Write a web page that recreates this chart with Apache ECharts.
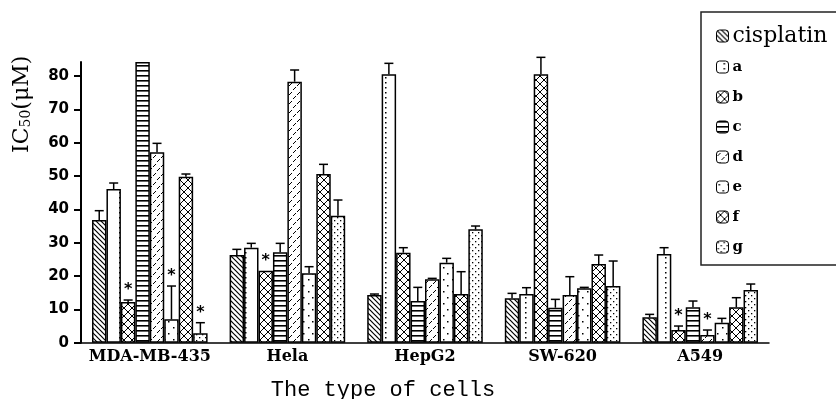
<!DOCTYPE html>
<html>
<head>
<meta charset="utf-8">
<script src="https://cdn.jsdelivr.net/npm/echarts@6/dist/echarts.min.js"></script>
<style>html,body{margin:0;padding:0;background:#fff}#c{width:836px;height:399px}</style>
</head>
<body>
<div id="c"></div>
<script>
// ---- data ----
var categories = ['MDA-MB-435', 'Hela', 'HepG2', 'SW-620', 'A549'];
var seriesNames = ['cisplatin', 'a', 'b', 'c', 'd', 'e', 'f', 'g'];
var cisplatin = [36.8, 26.3, 14.3, 13.3, 7.6];
var a = [46.1, 28.5, 80.5, 14.6, 26.6];
var b = [12.2, 21.6, 27.0, 80.5, 3.8];
var c = [84.2, 27.1, 12.5, 10.5, 10.6];
var d = [57.1, 78.3, 19.0, 14.3, 2.3];
var e = [7.0, 20.8, 24.0, 16.3, 6.0];
var f = [49.8, 50.6, 14.6, 23.6, 10.6];
var g = [2.8, 38.1, 34.0, 17.0, 15.8];
var errCisplatin = [2.8, 1.7, 0.3, 1.5, 0.9];
var errA = [1.8, 1.3, 3.3, 1.9, 1.9];
var errB = [0.6, 0, 1.5, 5.1, 1.2];
var errC = [0, 2.7, 4.1, 2.5, 1.9];
var errD = [2.7, 3.5, 0.3, 5.5, 1.5];
var errE = [10.0, 2.0, 1.3, 0.3, 1.3];
var errF = [0.8, 2.9, 6.7, 2.7, 2.9];
var errG = [3.2, 4.7, 1.0, 7.5, 1.8];
// significance stars: [category index, series index]
var stars = [[0, 2], [0, 5], [0, 7], [1, 2], [4, 2], [4, 4]];
var yTicks = [0, 10, 20, 30, 40, 50, 60, 70, 80];

var values = [cisplatin, a, b, c, d, e, f, g];
var errors = [errCisplatin, errA, errB, errC, errD, errE, errF, errG];

// ---- patterns ----
function mk(w, h, draw) {
  var cv = document.createElement('canvas');
  cv.width = w; cv.height = h;
  var ctx = cv.getContext('2d');
  ctx.fillStyle = '#fff'; ctx.fillRect(0, 0, w, h);
  ctx.strokeStyle = '#000'; ctx.fillStyle = '#000';
  draw(ctx);
  return { image: cv, repeat: 'repeat' };
}
function line(ctx, x1, y1, x2, y2, lw) { ctx.lineWidth = lw || 1.2; ctx.beginPath(); ctx.moveTo(x1, y1); ctx.lineTo(x2, y2); ctx.stroke(); }
function dot(ctx, x, y, s) { ctx.fillRect(x, y, s || 1.5, s || 1.5); }
var patterns = [
  mk(5, 5, function (x) { line(x, -1, -1, 6, 6); line(x, -1, 4, 1, 6); line(x, 4, -1, 6, 1); }),
  mk(14, 5, function (x) { dot(x, 7, 2); }),
  mk(8, 8, function (x) { line(x, 0, 0, 8, 8, 1); line(x, 8, 0, 0, 8, 1); }),
  mk(4, 5, function (x) { x.fillRect(0, 0, 4, 1.6); }),
  mk(8, 9, function (x) { line(x, 1, 5, 4, 2, 1); line(x, 5, 9, 8, 6, 1); }),
  mk(9, 12, function (x) { dot(x, 2, 3); dot(x, 6, 9); }),
  mk(8, 8, function (x) { line(x, 0, 0, 8, 8, 1); line(x, 8, 0, 0, 8, 1); }),
  mk(6, 6, function (x) { dot(x, 1, 1, 1.3); dot(x, 4, 4, 1.3); })
];

var series = seriesNames.map(function (n, i) {
  return {
    name: n, type: 'bar', data: values[i],
    barGap: '0%', barCategoryGap: '16%',
    itemStyle: { color: patterns[i], borderColor: '#000', borderWidth: 1.5 },
    emphasis: { disabled: true }, animation: false
  };
});

var errData = [];
for (var s = 0; s < 8; s++) for (var k = 0; k < 5; k++) {
  var st = stars.some(function (p) { return p[0] === k && p[1] === s; }) ? 1 : 0;
  errData.push([k, values[s][k], errors[s][k], s, st]);
}
series.push({
  type: 'custom', clip: false, silent: true, animation: false, z: 5,
  data: errData, encode: { x: 0, y: 1 },
  renderItem: function (params, api) {
    var cat = api.value(0), v = api.value(1), er = api.value(2), si = api.value(3), st = api.value(4);
    var band = api.size([1, 0])[0];
    var bw = band * 0.84 / 8;
    var cx = api.coord([cat, 0])[0] - band * 0.42 + bw * (si + 0.5);
    var y0 = api.coord([cat, v])[1];
    var y1 = api.coord([cat, v + er])[1];
    var children = [];
    if (er > 0.2) {
      children.push({ type: 'line', shape: { x1: cx, y1: y0, x2: cx, y2: y1 }, style: { stroke: '#000', lineWidth: 1.5 } });
      children.push({ type: 'line', shape: { x1: cx - 4.5, y1: y1, x2: cx + 4.5, y2: y1 }, style: { stroke: '#000', lineWidth: 1.5 } });
    }
    if (st) {
      children.push({ type: 'text', x: cx, y: y1 - 2, style: { text: '*', fill: '#000', font: 'bold 16px "DejaVu Sans"', align: 'center', verticalAlign: 'bottom' } });
    }
    return { type: 'group', children: children };
  }
});

var legendData = seriesNames.map(function (n, i) {
  return i === 0
    ? { name: n, textStyle: { fontFamily: 'DejaVu Serif', fontSize: 22, fontWeight: 'normal', lineHeight: 20 } }
    : { name: n };
});

var chart = echarts.init(document.getElementById('c'), null, { renderer: 'canvas' });
chart.setOption({
  animation: false,
  backgroundColor: '#fff',
  grid: { left: 81, right: 67, top: 62, bottom: 56.3, containLabel: false, outerBoundsMode: 'none' },
  legend: {
    data: legendData, orient: 'vertical', left: 701, top: 12,
    padding: [13, 40, 8, 15], itemGap: 10, itemWidth: 12, itemHeight: 12,
    borderColor: '#222', borderWidth: 1.5, selectedMode: false,
    itemStyle: { borderWidth: 1 },
    textStyle: { fontFamily: 'DejaVu Serif', fontWeight: 'bold', fontSize: 15, color: '#000', lineHeight: 20, padding: [0, 0, 0, -1] }
  },
  xAxis: {
    type: 'category', data: categories,
    axisLine: { lineStyle: { color: '#000', width: 1.5 } },
    axisTick: { show: false },
    axisLabel: { interval: 0, color: '#000', fontFamily: 'DejaVu Serif', fontWeight: 'bold', fontSize: 16, margin: 6 },
    name: 'The type of cells', nameLocation: 'middle', nameGap: 36,
    nameTextStyle: { color: '#000', fontFamily: 'Liberation Mono', fontSize: 22, padding: [0, 84, 0, 0] }
  },
  yAxis: {
    type: 'value', min: 0, max: 84.2, interval: 10,
    splitLine: { show: false },
    axisLine: { show: true, lineStyle: { color: '#000', width: 2 } },
    axisTick: { show: true, length: 7, lineStyle: { color: '#000', width: 2 }, customValues: yTicks },
    axisLabel: { color: '#000', fontFamily: 'DejaVu Sans', fontWeight: 'bold', fontSize: 15, margin: 12, customValues: yTicks },
    name: '{m|IC}{s|50}{m|(μM)}', nameLocation: 'middle', nameGap: 48, nameRotate: 90,
    nameTextStyle: {
      color: '#000', padding: [0, 0, 0, 196],
      rich: {
        m: { fontFamily: 'DejaVu Serif', fontSize: 22, color: '#000' },
        s: { fontFamily: 'DejaVu Serif', fontSize: 14, color: '#000', padding: [8, 0, 0, 0] }
      }
    }
  },
  series: series
});
</script>
</body>
</html>
